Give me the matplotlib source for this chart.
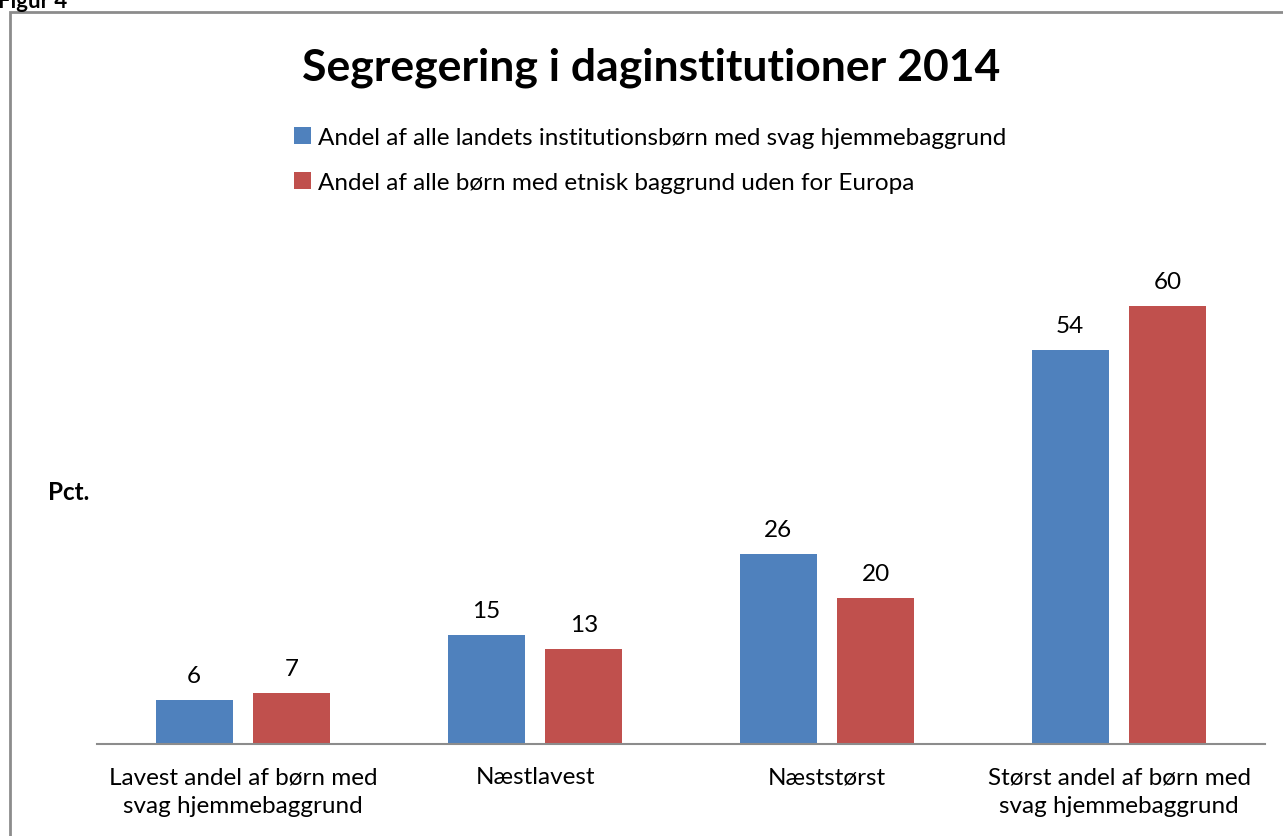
import matplotlib
matplotlib.use("Agg")
import matplotlib.pyplot as plt
from matplotlib.patches import Rectangle
import numpy as np

plt.rcParams['font.family'] = ['Lato', 'DejaVu Sans']

categories = ["Lavest andel af børn med\nsvag hjemmebaggrund", "Næstlavest",
              "Næststørst", "Størst andel af børn med\nsvag hjemmebaggrund"]
svag = [6, 15, 26, 54]
etnisk = [7, 13, 20, 60]
series_names = ["Andel af alle landets institutionsbørn med svag hjemmebaggrund",
                "Andel af alle børn med etnisk baggrund uden for Europa"]
colors = ["#4F81BD", "#C0504D"]

W, H = 1283, 837
FS = 17.5
fig = plt.figure(figsize=(W/100, H/100), dpi=100)

# outer frame (runs off the right and bottom edges)
fig.add_artist(Rectangle((10/W, -0.1), 1.2, (H-13)/H + 0.1, transform=fig.transFigure,
                         fill=False, ec='#8c8c8c', lw=2))
fig.text(-2/W, 1 - 8/H, "Figur 4", ha='left', va='baseline', fontsize=16, weight='bold')

# axes: x from 97 to 1265 px, baseline y=745, top at 270
x0, x1, yb, yt = 97, 1265, 745, 270
ax = fig.add_axes([x0/W, 1 - yb/H, (x1-x0)/W, (yb-yt)/H])
x = np.arange(len(categories))
bw = 0.264
off = 0.167
b1 = ax.bar(x - off, svag, bw, color=colors[0], label=series_names[0])
b2 = ax.bar(x + off, etnisk, bw, color=colors[1], label=series_names[1])
for bars in (b1, b2):
    ax.bar_label(bars, padding=10, fontsize=FS)
ax.set_xlim(-0.5, 3.5)
ax.set_ylim(0, (yb-yt)/7.3)
ax.set_yticks([])
ax.set_xticks(x)
ax.set_xticklabels(categories, fontsize=FS, linespacing=1.45)
ax.tick_params(axis='x', length=0, pad=16)
for s in ('top', 'right', 'left'):
    ax.spines[s].set_visible(False)
ax.spines['bottom'].set_color('#8c8c8c')
ax.spines['bottom'].set_linewidth(1.5)

fig.text(48/W, 1 - 493/H, "Pct.", ha='left', va='center', fontsize=FS, weight='bold')
fig.text(651/W, 1 - 68/H, "Segregering i daginstitutioner 2014", ha='center', va='center',
         fontsize=32, weight='bold')

leg = fig.legend(handles=[b1, b2], loc='upper left', bbox_to_anchor=(272/W, 1 - 106/H),
                 frameon=False, fontsize=FS, handlelength=0.7, handleheight=0.7,
                 handletextpad=0.3, labelspacing=0.98)

fig.savefig("out.png", dpi=100)
